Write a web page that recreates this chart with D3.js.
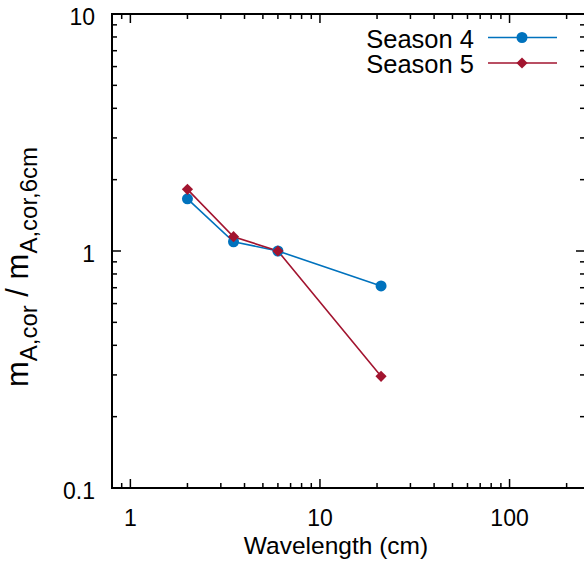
<!DOCTYPE html>
<html><head><meta charset="utf-8">
<script src="https://cdn.jsdelivr.net/npm/d3@7"></script>
<style>
body{margin:0;background:#fff;}
svg{display:block;font-family:"Liberation Sans",Arial,Helvetica,sans-serif;}
</style></head>
<body><svg id="c" width="584" height="568"></svg>
<script>
const wavelengths = [2, 3.5, 6, 21];
const season4 = [1.66, 1.094, 1.0, 0.712];
const season5 = [1.82, 1.149, 1.0, 0.296];
const seriesNames = ["Season 4", "Season 5"];
const xTickLabels = ["1", "10", "100"];
const yTickLabels = ["0.1", "1", "10"];

const svg = d3.select("#c");
const L = 112, R = 585, T = 14, B = 488;
const x = d3.scaleLog().domain([0.8, 250]).range([L, R]);
const y = d3.scaleLog().domain([0.1, 10]).range([B, T]);
const blue = "#0072bd", red = "#a2142f";

const xMajor = xTickLabels.map(Number);
const xMinor = [];
[0.1,1,10,100].forEach(d=>{for(let k=2;k<=9;k++){const v=d*k; if(v>=0.8 && v<=250 && !xMajor.includes(v)) xMinor.push(v);}});
const yMajor = yTickLabels.map(Number);
const yMinor = [];
[0.1,1].forEach(d=>{for(let k=2;k<=9;k++) yMinor.push(d*k);});

const g = svg.append("g");
const tk = g.append("g").attr("stroke","#000").attr("stroke-width",1.5);
const MJ = 9, MN = 5;
xMajor.forEach(v=>{const px=x(v);
  tk.append("line").attr("x1",px).attr("x2",px).attr("y1",B).attr("y2",B-MJ);
  tk.append("line").attr("x1",px).attr("x2",px).attr("y1",T).attr("y2",T+MJ);});
xMinor.forEach(v=>{const px=x(v);
  tk.append("line").attr("x1",px).attr("x2",px).attr("y1",B).attr("y2",B-MN);
  tk.append("line").attr("x1",px).attr("x2",px).attr("y1",T).attr("y2",T+MN);});
yMajor.forEach(v=>{const py=y(v);
  tk.append("line").attr("x1",L).attr("x2",L+MJ).attr("y1",py).attr("y2",py);
  tk.append("line").attr("x1",R).attr("x2",R-MJ).attr("y1",py).attr("y2",py);});
yMinor.forEach(v=>{const py=y(v);
  tk.append("line").attr("x1",L).attr("x2",L+MN).attr("y1",py).attr("y2",py);
  tk.append("line").attr("x1",R).attr("x2",R-MN).attr("y1",py).attr("y2",py);});

g.append("rect").attr("x",L).attr("y",T).attr("width",R-L).attr("height",B-T)
 .attr("fill","none").attr("stroke","#000").attr("stroke-width",2);

// tick labels
g.selectAll(".xl").data(xMajor).enter().append("text")
 .attr("x",d=>x(d)).attr("y",526).attr("text-anchor","middle").attr("font-size",23).text((d,i)=>xTickLabels[i]);
g.selectAll(".yl").data(yMajor).enter().append("text")
 .attr("x",95).attr("y",d=>y(d)+11).attr("text-anchor","end").attr("font-size",23).text((d,i)=>yTickLabels[i]);

// axis titles
g.append("text").attr("x",336).attr("y",554).attr("text-anchor","middle").attr("font-size",24.5).text("Wavelength (cm)");
const yt = g.append("text").attr("transform","translate(28,267) rotate(-90)").attr("text-anchor","middle").attr("font-size",31);
yt.append("tspan").text("m");
yt.append("tspan").attr("font-size",24).attr("dy",9).text("A,cor");
yt.append("tspan").attr("dy",-9).text(" / m");
yt.append("tspan").attr("font-size",24).attr("dy",9).text("A,cor,6cm");

// series
const line = d3.line().x(d=>x(d[0])).y(d=>y(d[1]));
const s4 = wavelengths.map((w,i)=>[w,season4[i]]);
const s5 = wavelengths.map((w,i)=>[w,season5[i]]);
g.append("path").attr("d",line(s4)).attr("fill","none").attr("stroke",blue).attr("stroke-width",1.6);
g.append("path").attr("d",line(s5)).attr("fill","none").attr("stroke",red).attr("stroke-width",1.6);
g.selectAll(".p4").data(s4).enter().append("circle").attr("cx",d=>x(d[0])).attr("cy",d=>y(d[1])).attr("r",5.5).attr("fill",blue);
const diamond = d3.symbol().type(d3.symbolDiamond2).size(80);
g.selectAll(".p5").data(s5).enter().append("path").attr("d",diamond)
 .attr("transform",d=>`translate(${x(d[0])},${y(d[1])})`).attr("fill",red);

// legend
const leg = [{name:seriesNames[0],c:blue,ly:37.5,m:"c"},{name:seriesNames[1],c:red,ly:63,m:"d"}];
leg.forEach(l=>{
  g.append("text").attr("x",474).attr("y",l.ly+10).attr("text-anchor","end").attr("font-size",25.5).text(l.name);
  g.append("line").attr("x1",488).attr("x2",557).attr("y1",l.ly).attr("y2",l.ly).attr("stroke",l.c).attr("stroke-width",1.6);
  if(l.m==="c") g.append("circle").attr("cx",522).attr("cy",l.ly).attr("r",5.5).attr("fill",l.c);
  else g.append("path").attr("d",diamond).attr("transform",`translate(522,${l.ly})`).attr("fill",l.c);
});
</script></body></html>
